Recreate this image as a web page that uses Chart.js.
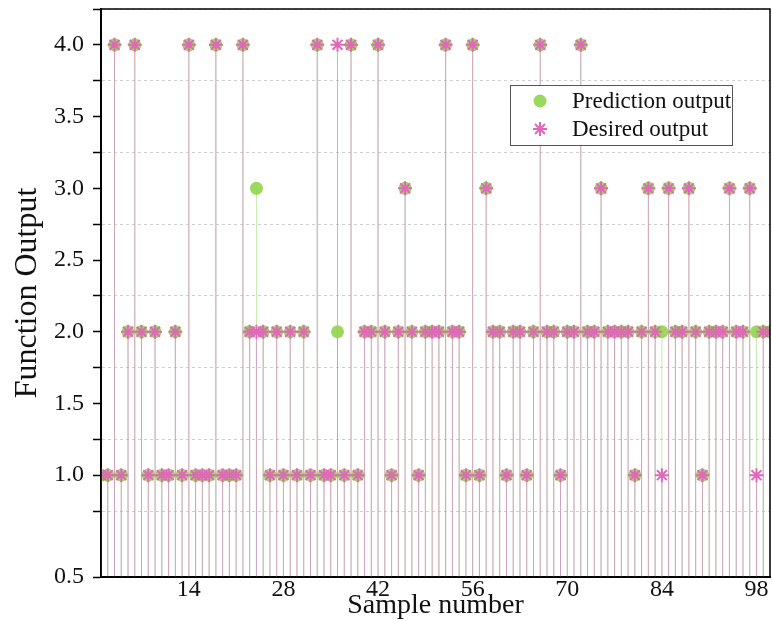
<!DOCTYPE html>
<html>
<head>
<meta charset="utf-8">
<script src="https://cdn.jsdelivr.net/npm/chart.js@4.4.1/dist/chart.umd.min.js"></script>
<style>
  html, body { margin: 0; padding: 0; background: #fff; }
  #wrap { width: 772px; height: 621px; }
</style>
</head>
<body>
<div id="wrap"><canvas id="chart" width="772" height="621"></canvas></div>
<script>
// Function output per sample — desired vs predicted

const sampleNo = Array.from({ length: 100 }, (_, i) => i + 1);

const desiredOut = [
  1, 1, 4, 1, 2, 4, 2, 1, 2, 1,
  1, 2, 1, 4, 1, 1, 1, 4, 1, 1,
  1, 4, 2, 2, 2, 1, 2, 1, 2, 1,
  2, 1, 4, 1, 1, 4, 1, 4, 1, 2,
  2, 4, 2, 1, 2, 3, 2, 1, 2, 2,
  2, 4, 2, 2, 1, 4, 1, 3, 2, 2,
  1, 2, 2, 1, 2, 4, 2, 2, 1, 2,
  2, 4, 2, 2, 3, 2, 2, 2, 2, 1,
  2, 3, 2, 1, 3, 2, 2, 3, 2, 1,
  2, 2, 2, 3, 2, 2, 3, 1, 2, 2,
];

const predictOut = [
  1, 1, 4, 1, 2, 4, 2, 1, 2, 1,
  1, 2, 1, 4, 1, 1, 1, 4, 1, 1,
  1, 4, 2, 3, 2, 1, 2, 1, 2, 1,
  2, 1, 4, 1, 1, 2, 1, 4, 1, 2,
  2, 4, 2, 1, 2, 3, 2, 1, 2, 2,
  2, 4, 2, 2, 1, 4, 1, 3, 2, 2,
  1, 2, 2, 1, 2, 4, 2, 2, 1, 2,
  2, 4, 2, 2, 3, 2, 2, 2, 2, 1,
  2, 3, 2, 2, 3, 2, 2, 3, 2, 1,
  2, 2, 2, 3, 2, 2, 3, 2, 2, 2,
];

const xTicks = [14, 28, 42, 56, 70, 84, 98];
const yMajorTicks  = [0.29, 1, 1.5, 2, 2.5, 3, 3.5, 4];
const yMajorLabels = ['0.5', '1.0', '1.5', '2.0', '2.5', '3.0', '3.5', '4.0'];
const yMinorTicks  = [0.75, 1.25, 1.75, 2.25, 2.75, 3.25, 3.75, 4.25];

const FONT = '"Liberation Serif", "Times New Roman", serif';
const GREEN = 'rgba(146,214,78,0.92)';
const PINK  = '#df68b8';

const toPts = arr => arr.map((v, i) => ({ x: sampleNo[i], y: v }));

// --- vertical drop lines from every point to the bottom ---
const dropLines = {
  id: 'dropLines',
  beforeDatasetsDraw(chart) {
    const { ctx, chartArea: a } = chart;
    ctx.save();
    ctx.beginPath();
    ctx.rect(a.left, a.top, a.right - a.left, a.bottom - a.top);
    ctx.clip();
    const styles = ['rgba(150,215,110,0.55)', 'rgba(210,140,195,0.75)'];
    chart.data.datasets.forEach((ds, di) => {
      const meta = chart.getDatasetMeta(di);
      ctx.strokeStyle = styles[di];
      ctx.lineWidth = 1;
      ctx.beginPath();
      meta.data.forEach(pt => {
        ctx.moveTo(pt.x, pt.y);
        ctx.lineTo(pt.x, a.bottom);
      });
      ctx.stroke();
    });
    ctx.restore();
  },
};

// --- frame + in-plot legend ---
const frameLegend = {
  id: 'frameLegend',
  afterDraw(chart) {
    const { ctx, chartArea: a } = chart;
    ctx.save();
    ctx.strokeStyle = '#000';
    ctx.lineWidth = 1.5;
    ctx.strokeRect(a.left, a.top, a.right - a.left, a.bottom - a.top);

    const box = { x: 510, y: 85, w: 222, h: 60 };
    ctx.fillStyle = '#fff';
    ctx.fillRect(box.x, box.y, box.w, box.h);
    ctx.strokeStyle = '#555';
    ctx.lineWidth = 1;
    ctx.strokeRect(box.x + 0.5, box.y + 0.5, box.w, box.h);

    chart.data.datasets.forEach((ds, i) => {
      const cy = box.y + 16 + i * 28;
      ctx.fillStyle = ds.pointBackgroundColor;
      ctx.strokeStyle = ds.pointBorderColor;
      ctx.lineWidth = ds.pointBorderWidth;
      Chart.helpers.drawPoint(ctx, {
        pointStyle: ds.pointStyle,
        radius: ds.pointRadius,
        borderWidth: ds.pointBorderWidth,
        rotation: 0,
      }, box.x + 30, cy);
      ctx.fillStyle = '#111';
      ctx.font = `23px ${FONT}`;
      ctx.textBaseline = 'middle';
      ctx.textAlign = 'left';
      ctx.fillText(ds.label, box.x + 62, cy + 1);
    });
    ctx.restore();
  },
};

new Chart(document.getElementById('chart'), {
  type: 'scatter',
  data: {
    datasets: [
      {
        label: 'Prediction output',
        data: toPts(predictOut),
        pointStyle: 'circle',
        pointRadius: 6.5,
        pointBackgroundColor: GREEN,
        pointBorderColor: GREEN,
        pointBorderWidth: 0,
        order: 1,
        clip: 0,
      },
      {
        label: 'Desired output',
        data: toPts(desiredOut),
        pointStyle: 'star',
        pointRadius: 7,
        pointBackgroundColor: PINK,
        pointBorderColor: PINK,
        pointBorderWidth: 2,
        order: 0,
        clip: 0,
      },
    ],
  },
  options: {
    responsive: false,
    animation: false,
    events: [],
    layout: { autoPadding: false, padding: { top: 9, right: 2, left: 0, bottom: 0 } },
    plugins: { legend: { display: false }, tooltip: { enabled: false } },
    scales: {
      x: {
        type: 'linear',
        min: 1, max: 100,
        afterBuildTicks: s => { s.ticks = xTicks.map(v => ({ value: v })); },
        afterFit: s => { s.height = 44; s.paddingLeft = 0; s.paddingRight = 0; },
        grid: { drawOnChartArea: false, drawTicks: false },
        border: { color: '#000', width: 2 },
        ticks: {
          padding: 1,
          color: '#111',
          font: { family: FONT, size: 24, lineHeight: 1 },
          maxRotation: 0,
        },
        title: {
          display: true,
          text: 'Sample number',
          color: '#111',
          font: { family: FONT, size: 28, lineHeight: 1 },
          padding: { top: 0, bottom: 1 },
        },
      },
      y: {
        type: 'linear',
        min: 0.29, max: 4.25,
        afterBuildTicks: s => {
          s.ticks = yMajorTicks.concat(yMinorTicks)
            .sort((a, b) => a - b)
            .map(v => ({ value: v }));
        },
        afterFit: s => { s.width = 101; s.paddingTop = 0; s.paddingBottom = 0; },
        grid: {
          color: c => (c.tick && yMinorTicks.includes(c.tick.value)) ? '#cfcfcf' : 'rgba(0,0,0,0)',
          lineWidth: 1,
          tickColor: '#000',
          tickLength: 8,
          tickWidth: 1.5,
        },
        border: { color: '#000', width: 2, dash: [3, 3] },
        ticks: {
          padding: 9,
          color: '#111',
          font: { family: FONT, size: 24 },
          callback: v => {
            const k = yMajorTicks.indexOf(v);
            return k >= 0 ? yMajorLabels[k] : '';
          },
        },
        title: {
          display: true,
          text: 'Function Output',
          color: '#111',
          font: { family: FONT, size: 32 },
          padding: { top: 8, bottom: 0 },
        },
      },
    },
  },
  plugins: [dropLines, frameLegend],
});
</script>
</body>
</html>
